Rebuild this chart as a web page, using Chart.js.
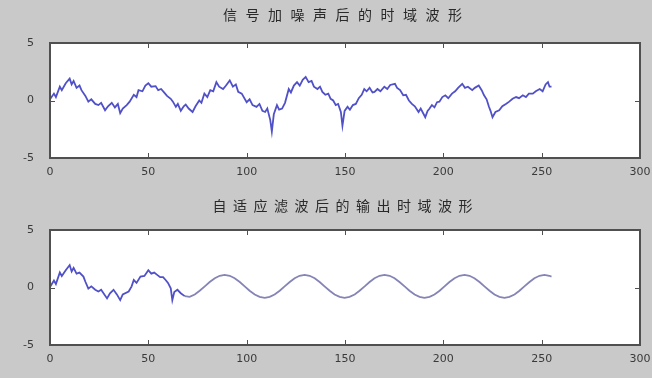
<!DOCTYPE html>
<html>
<head>
<meta charset="utf-8">
<script src="https://cdn.jsdelivr.net/npm/chart.js@4.4.0/dist/chart.umd.min.js"></script>
<style>
html, body { margin: 0; padding: 0; background: #c9c9c9; }
#wrap { position: relative; width: 652px; height: 378px; }
.box { position: absolute; left: 0; width: 652px; height: 189px; }
#topBox { top: 0; }
#botBox { top: 189px; }
.ttl { position: absolute; left: 50px; width: 585px; text-align: center; font-family: "Noto Sans CJK SC", sans-serif;
  font-size: 14px; line-height: 16px; color: #2a2a2a; white-space: nowrap; }
#ttlTop { top: 6px; letter-spacing: 8.5px; text-indent: 8.5px; }
#ttlBot { top: 197px; letter-spacing: 6.5px; text-indent: 6.5px; }
</style>
</head>
<body>
<div id="wrap">
  <div class="box" id="topBox"><canvas id="noisyChart"></canvas></div>
  <div class="box" id="botBox"><canvas id="filteredChart"></canvas></div>
  <div class="ttl" id="ttlTop"></div>
  <div class="ttl" id="ttlBot"></div>
</div>
<script>
// values (sample index, amplitude)
const noisyX = [0, 2, 3, 5, 6, 8, 10, 11, 12, 13.5, 15, 16, 18, 19.5, 21, 23, 24.6, 26, 28, 29.5,
  31.4, 33, 34.5, 35.7, 37, 39, 40.5, 42.6, 44, 45, 47, 48.5, 50, 51.5, 53.7, 55, 56.5, 58, 59.5, 61.4,
  62.5, 64, 65, 66.5, 68, 69, 70.5, 72.5, 74, 75.9, 77, 78.5, 80, 81.5, 83, 84.6, 86, 88, 89.5, 91.4,
  93, 94.5, 95.7, 97.5, 100, 101.5, 103, 105, 106.5, 108, 109.4, 110.5, 112, 112.8, 113.8, 115.4, 116.5, 118, 119.5, 121.4,
  122.5, 124, 125.6, 127, 128.5, 130, 131.5, 133, 134.2, 136, 137.3, 138.5, 140, 141.5, 142.7, 144, 145.3, 146.5, 147.9, 148.7,
  149.8, 151.3, 152.5, 154, 155.5, 157, 158.5, 159.8, 161, 162.5, 164, 165, 166.5, 168, 170, 171.5, 173, 175.4, 176.5, 178,
  179.6, 181, 182.5, 184, 185.5, 187.4, 188.5, 190.8, 192, 193, 194.2, 195.5, 196.8, 198, 199.5, 201, 202.5, 204.4, 206, 207.5,
  209.6, 211, 212.5, 214.7, 216, 218, 219.5, 220.7, 222, 223.2, 224, 225, 226.5, 228.4, 230, 231.8, 233.5, 235.2, 237, 238.5,
  240.4, 242, 243.5, 245.5, 247, 249, 250.5, 252, 253.2, 254, 255];
const noisyY = [0.1, 0.6, 0.3, 1.2, 0.9, 1.5, 1.9, 1.4, 1.7, 1.1, 1.3, 0.9, 0.4, -0.1, 0.1, -0.3, -0.4, -0.2, -0.85, -0.5,
  -0.2, -0.6, -0.3, -1.1, -0.7, -0.4, -0.1, 0.5, 0.3, 0.9, 0.8, 1.3, 1.5, 1.2, 1.25, 0.9, 1.0, 0.7, 0.4, 0.15,
  -0.1, -0.55, -0.3, -0.9, -0.5, -0.35, -0.7, -1.0, -0.5, 0.0, -0.2, 0.6, 0.3, 0.9, 0.8, 1.6, 1.2, 1.0, 1.3, 1.75,
  1.2, 1.4, 0.75, 0.6, -0.15, 0.1, -0.4, -0.55, -0.3, -0.9, -1.0, -0.7, -1.7, -2.7, -1.2, -0.4, -0.8, -0.7, -0.2, 1.0,
  0.7, 1.3, 1.6, 1.3, 1.8, 2.05, 1.6, 1.7, 1.2, 1.0, 1.2, 0.75, 0.5, 0.6, 0.15, 0.0, -0.4, -0.3, -1.0, -2.2,
  -0.9, -0.55, -0.8, -0.4, -0.3, 0.2, 0.5, 1.0, 0.8, 1.1, 0.7, 0.75, 1.0, 0.8, 1.2, 1.0, 1.35, 1.45, 1.1, 0.9,
  0.45, 0.5, 0.0, -0.3, -0.5, -1.0, -0.7, -1.45, -0.9, -0.7, -0.4, -0.6, -0.15, -0.1, 0.3, 0.45, 0.2, 0.6, 0.8, 1.1,
  1.45, 1.1, 1.2, 0.9, 1.1, 1.3, 0.9, 0.45, 0.1, -0.55, -0.9, -1.45, -1.0, -0.85, -0.5, -0.3, -0.1, 0.15, 0.3, 0.2,
  0.45, 0.3, 0.6, 0.6, 0.8, 1.0, 0.8, 1.4, 1.6, 1.2, 1.2];

const filteredX = [0, 2, 3, 5, 6, 8, 10, 11, 12, 13.5, 15, 17, 18, 19.5, 21, 23, 24.6, 26, 29, 30.5,
  32.3, 34, 35.7, 37, 40, 41.5, 42.6, 44, 46, 48, 50, 51.5, 53, 54.5, 56, 57.5, 58.8, 60, 61.4, 62.2,
  63.2, 64.8, 66.5, 68.5, 71, 73.6, 76.1, 78.7, 81.2, 83.8, 86.3, 88.8, 91.4, 93.9, 96.5, 99, 101.5, 104.1, 106.6, 109.2,
  111.7, 114.2, 116.8, 119.3, 121.9, 124.4, 126.9, 129.5, 132, 134.6, 137.1, 139.6, 142.2, 144.7, 147.3, 149.8, 152.3, 154.9, 157.4, 160,
  162.5, 165, 167.6, 170.1, 172.7, 175.2, 177.7, 180.3, 182.8, 185.4, 187.9, 190.4, 193, 195.5, 198.1, 200.6, 203.1, 205.7, 208.2, 210.8,
  213.3, 215.8, 218.4, 220.9, 223.5, 226, 228.5, 231.1, 233.6, 236.2, 238.7, 241.2, 243.8, 246.3, 248.9, 251.4, 253.9, 255];
const filteredY = [0.05, 0.6, 0.3, 1.3, 1.0, 1.5, 1.95, 1.4, 1.7, 1.2, 1.3, 0.95, 0.5, -0.1, 0.1, -0.2, -0.35, -0.2, -0.95, -0.5,
  -0.2, -0.6, -1.1, -0.6, -0.35, 0.1, 0.65, 0.4, 0.95, 1.0, 1.5, 1.2, 1.3, 1.1, 0.9, 0.9, 0.65, 0.4, -0.07, -1.1,
  -0.4, -0.2, -0.5, -0.75, -0.82, -0.61, -0.28, 0.1, 0.48, 0.81, 1.02, 1.1, 1.02, 0.81, 0.48, 0.1, -0.28, -0.61, -0.82, -0.9,
  -0.82, -0.61, -0.28, 0.1, 0.48, 0.81, 1.02, 1.1, 1.02, 0.81, 0.48, 0.1, -0.28, -0.61, -0.82, -0.9, -0.82, -0.61, -0.28, 0.1,
  0.48, 0.81, 1.02, 1.1, 1.02, 0.81, 0.48, 0.1, -0.28, -0.61, -0.82, -0.9, -0.82, -0.61, -0.28, 0.1, 0.48, 0.81, 1.02, 1.1,
  1.02, 0.81, 0.48, 0.1, -0.28, -0.61, -0.82, -0.9, -0.82, -0.61, -0.28, 0.1, 0.48, 0.81, 1.02, 1.1, 1.02, 0.95];

const xTicks = [0, 50, 100, 150, 200, 250, 300];
const yTicks = [-5, 0, 5];
const titles = ['信号加噪声后的时域波形', '自适应滤波后的输出时域波形'];

document.getElementById('ttlTop').textContent = titles[0];
document.getElementById('ttlBot').textContent = titles[1];

const lineBlue = '#5050c8';
const cleanBlue = '#8484b6';

// MATLAB-style box with inward tick marks
const frameTicks = {
  id: 'frameTicks',
  afterDatasetsDraw(chart) {
    const { ctx, chartArea: a, scales: { x, y } } = chart;
    ctx.save();
    ctx.strokeStyle = '#505050';
    ctx.lineWidth = 2;
    ctx.strokeRect(a.left, a.top, a.right - a.left, a.bottom - a.top);
    ctx.lineWidth = 1;
    ctx.beginPath();
    xTicks.forEach(v => {
      const px = Math.round(x.getPixelForValue(v)) + 0.5;
      ctx.moveTo(px, a.bottom); ctx.lineTo(px, a.bottom - 5);
      ctx.moveTo(px, a.top); ctx.lineTo(px, a.top + 5);
    });
    yTicks.forEach(v => {
      const py = Math.round(y.getPixelForValue(v)) + 0.5;
      ctx.moveTo(a.left, py); ctx.lineTo(a.left + 5, py);
      ctx.moveTo(a.right, py); ctx.lineTo(a.right - 5, py);
    });
    ctx.stroke();
    ctx.restore();
  }
};

const whiteArea = {
  id: 'whiteArea',
  beforeDraw(chart) {
    const { ctx, chartArea: a } = chart;
    ctx.save();
    ctx.fillStyle = '#ffffff';
    ctx.fillRect(a.left, a.top, a.right - a.left, a.bottom - a.top);
    ctx.restore();
  }
};

function makeChart(id, xs, ys, topPad, xAxisHeight, cleanFrom) {
  const ctx = document.getElementById(id).getContext('2d');
  return new Chart(ctx, {
    type: 'line',
    data: {
      datasets: [{
        data: xs.map((v, i) => ({ x: v, y: ys[i] })),
        borderColor: lineBlue,
        borderWidth: 1.8,
        pointRadius: 0,
        tension: 0,
        segment: {
          borderColor: c => (cleanFrom !== null && c.p0.parsed.x >= cleanFrom) ? cleanBlue : lineBlue
        }
      }]
    },
    options: {
      responsive: true,
      maintainAspectRatio: false,
      animation: false,
      layout: { padding: { left: 0, right: 12, top: topPad, bottom: 0 } },
      plugins: {
        legend: { display: false },
        tooltip: { enabled: false },
        title: { display: false }
      },
      scales: {
        x: {
          type: 'linear',
          min: 0,
          max: 300,
          afterBuildTicks: s => { s.ticks = xTicks.map(v => ({ value: v })); },
          afterFit: s => { s.height = xAxisHeight; },
          grid: { display: false },
          border: { display: false },
          ticks: { color: '#3a3a3a', font: { family: '"DejaVu Sans", sans-serif', size: 11 }, padding: 0, maxRotation: 0 }
        },
        y: {
          type: 'linear',
          min: -5,
          max: 5,
          afterBuildTicks: s => { s.ticks = yTicks.map(v => ({ value: v })); },
          afterFit: s => { s.width = 50; },
          grid: { display: false },
          border: { display: false },
          ticks: { color: '#3a3a3a', font: { family: '"DejaVu Sans", sans-serif', size: 11 }, padding: 8 }
        }
      }
    },
    plugins: [whiteArea, frameTicks]
  });
}

makeChart('noisyChart', noisyX, noisyY, 43, 31, null);
makeChart('filteredChart', filteredX, filteredY, 41, 33, 68);
</script>
</body>
</html>
